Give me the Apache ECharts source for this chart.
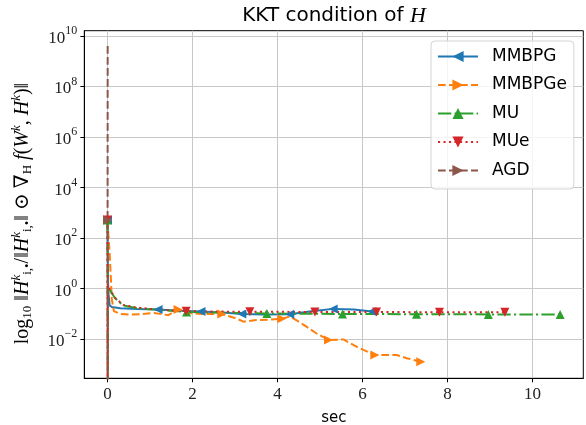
<!DOCTYPE html>
<html>
<head>
<meta charset="utf-8">
<script src="https://cdn.jsdelivr.net/npm/echarts@6/dist/echarts.min.js"></script>
<style>
  html, body { margin: 0; padding: 0; background: #fff; }
  #chart { width: 586px; height: 425px; }
</style>
</head>
<body>
<div id="chart"></div>
<script>
// Run names and colours
const seriesNames = ['MMBPG', 'MMBPGe', 'MU', 'MUe', 'AGD'];
const seriesColors = ['#1f77b4', '#ff7f0e', '#2ca02c', '#d62728', '#8c564b'];

// MMBPG: elapsed seconds, KKT residual, indices carrying a marker
const mmbpgTime = [0, 0.01, 0.025, 0.05, 0.1, 0.3, 0.7, 1.19, 1.7, 2.2, 2.7, 3.16, 3.7, 4.29, 4.8, 5.31, 5.8, 6.22];
const mmbpgKkt  = [520, 2.2, 0.6, 0.22, 0.19, 0.17, 0.16, 0.15, 0.135, 0.125, 0.115, 0.1, 0.097, 0.098, 0.13, 0.16, 0.15, 0.125];
const mmbpgMarks = [0, 7, 9, 11, 13, 15, 17];

// MMBPGe
const mmbpgeTime = [0, 0.02, 0.05, 0.08, 0.1, 0.15, 0.3, 0.5, 0.8, 1.1, 1.43, 1.66, 1.9, 2.2, 2.69, 3.0, 3.2, 3.5, 3.8, 4.1, 4.29, 4.5, 4.69, 4.92, 5.2, 5.55, 5.86, 6.29, 6.8, 7.04, 7.37];
const mmbpgeKkt  = [520, 150, 25, 2.5, 0.4, 0.13, 0.1, 0.095, 0.1, 0.11, 0.09, 0.15, 0.11, 0.1, 0.1, 0.07, 0.05, 0.058, 0.06, 0.065, 0.08, 0.05, 0.031, 0.017, 0.0094, 0.0099, 0.0051, 0.0024, 0.0024, 0.0018, 0.0013];
const mmbpgeMarks = [0, 11, 14, 19, 24, 27, 30];

// MU
const muTime = [0, 0.004, 0.008, 0.05, 0.18, 0.37, 0.69, 1.0, 1.5, 1.86, 2.5, 3.1, 3.75, 4.6, 5.53, 6.4, 7.27, 8.1, 8.96, 9.8, 10.65];
const muKkt  = [520, 1e-5, 1.4, 0.9, 0.42, 0.22, 0.17, 0.155, 0.135, 0.12, 0.115, 0.11, 0.105, 0.103, 0.1, 0.1, 0.098, 0.098, 0.097, 0.097, 0.096];
const muMarks = [0, 9, 12, 14, 16, 18, 20];

// MUe
const mueTime = [0, 0.004, 0.008, 0.05, 0.18, 0.37, 0.69, 1.0, 1.5, 1.85, 2.6, 3.35, 4.1, 4.88, 5.6, 6.33, 7.1, 7.81, 8.6, 9.35];
const mueKkt  = [520, 1e-5, 1.5, 0.95, 0.43, 0.23, 0.18, 0.16, 0.14, 0.13, 0.125, 0.123, 0.122, 0.121, 0.12, 0.12, 0.119, 0.119, 0.118, 0.118];
const mueMarks = [0, 9, 11, 13, 15, 17, 19];

// AGD: blows up, then collapses within the first instants
const agdTime = [0.004, 0.002, 0.008];
const agdKkt  = [3.9e9, 520, 1e-6];
const agdMarks = [1];

// Axis ticks
const xTicks = [0, 2, 4, 6, 8, 10];
const yTickExponents = [-2, 0, 2, 4, 6, 8, 10];

const serif = 'Liberation Serif, DejaVu Serif, serif';
const sans = 'DejaVu Sans, sans-serif';

function lineSeries(idx, times, values, marks, rotate, dash) {
  const color = seriesColors[idx];
  return {
    type: 'line',
    name: seriesNames[idx],
    data: times.map((t, i) => ({
      value: [t, Math.log10(values[i])],
      symbol: marks.includes(i) ? 'triangle' : 'none'
    })),
    symbol: 'triangle',
    symbolSize: 9,
    symbolRotate: rotate,
    showSymbol: true,
    clip: true,
    lineStyle: { color: color, width: 2, type: dash },
    itemStyle: { color: color },
    emphasis: { disabled: true },
    animation: false
  };
}

function expLabel(v) {
  const s = String(Math.round(v)).replace('-', '\u2212');
  return '{b|10}{p|' + s + '}';
}

const chart = echarts.init(document.getElementById('chart'), null, { renderer: 'canvas' });
chart.setOption({
  animation: false,
  backgroundColor: '#fff',
  title: {
    text: '{s|KKT condition of }{m|H}',
    left: 334,
    textAlign: 'center',
    top: 5,
    padding: 0,
    textStyle: {
      fontWeight: 'normal',
      rich: {
        s: { fontFamily: sans, fontSize: 20, fontWeight: 'normal', color: '#000' },
        m: { fontFamily: serif, fontStyle: 'italic', fontWeight: 'normal', fontSize: 22, color: '#000' }
      }
    }
  },
  legend: {
    orient: 'vertical',
    left: 431,
    top: 41,
    padding: [7, 7, 10, 6],
    itemGap: 11.5,
    itemWidth: 40,
    itemHeight: 14,
    backgroundColor: 'rgba(255,255,255,0.8)',
    borderColor: '#d4d4d4',
    borderWidth: 1,
    borderRadius: 4,
    textStyle: { fontFamily: sans, fontSize: 17, color: '#000', padding: [0, 0, 0, 9] },
    data: seriesNames
  },
  grid: {
    left: 84.3, top: 30.7, right: 2.7, bottom: 46.7,
    containLabel: false,
    outerBoundsMode: 'none',
    show: true, borderColor: '#000', borderWidth: 1, backgroundColor: 'transparent'
  },
  xAxis: {
    type: 'value',
    min: -0.546,
    max: 11.195,
    name: 'sec',
    nameLocation: 'middle',
    nameGap: 32,
    nameTextStyle: { fontFamily: sans, fontSize: 15, color: '#000' },
    axisLine: { show: true, onZero: false, lineStyle: { color: '#000', width: 1 } },
    axisTick: { show: true, length: 4, customValues: xTicks, lineStyle: { color: '#000' } },
    axisLabel: { customValues: xTicks, margin: 8, fontFamily: serif, fontSize: 17, color: '#222' },
    splitLine: { show: true, lineStyle: { color: '#c8c8c8', width: 1 } }
  },
  yAxis: {
    type: 'value',
    min: -3.54,
    max: 10.2,
    name: '{r|log}{sb|10}{r| \u2016}{i|H}{sp|k}{sb|i,\u2022}{r|/\u2016}{i|H}{sp|k}{sb|i,\u2022}{r|\u2016 \u2299 \u2207}{sb|H}{i| f}{r|(}{i|W}{sp|k}{r|, }{i|H}{sp|k}{r|)\u2016}',
    nameLocation: 'middle',
    nameRotate: 90,
    nameGap: 50,
    nameTextStyle: {
      color: '#000',
      padding: [0, 18, 0, 0],
      rich: {
        r: { fontFamily: serif, fontSize: 20, lineHeight: 24, color: '#000' },
        i: { fontFamily: serif, fontStyle: 'italic', fontSize: 20, lineHeight: 24, color: '#000' },
        sp: { fontFamily: serif, fontStyle: 'italic', fontSize: 13, lineHeight: 13, verticalAlign: 'top', color: '#000' },
        sb: { fontFamily: serif, fontSize: 13, lineHeight: 13, verticalAlign: 'bottom', color: '#000' }
      }
    },
    axisLine: { show: true, onZero: false, lineStyle: { color: '#000', width: 1 } },
    axisTick: { show: true, length: 4, customValues: yTickExponents, lineStyle: { color: '#000' } },
    axisLabel: {
      customValues: yTickExponents,
      margin: 7,
      formatter: expLabel,
      rich: {
        b: { fontFamily: serif, fontSize: 17, lineHeight: 22, verticalAlign: 'bottom', color: '#222' },
        p: { fontFamily: serif, fontSize: 12, lineHeight: 14, verticalAlign: 'top', color: '#222' }
      }
    },
    splitLine: { show: true, lineStyle: { color: '#c8c8c8', width: 1 } }
  },
  series: [
    lineSeries(0, mmbpgTime, mmbpgKkt, mmbpgMarks, 90, 'solid'),
    lineSeries(1, mmbpgeTime, mmbpgeKkt, mmbpgeMarks, -90, [7.7, 3.3]),
    lineSeries(2, muTime, muKkt, muMarks, 0, [13.3, 3.3, 2.1, 3.3]),
    lineSeries(3, mueTime, mueKkt, mueMarks, 180, [2.1, 3.4]),
    lineSeries(4, agdTime, agdKkt, agdMarks, -90, [7.7, 3.3])
  ]
});
</script>
</body>
</html>
